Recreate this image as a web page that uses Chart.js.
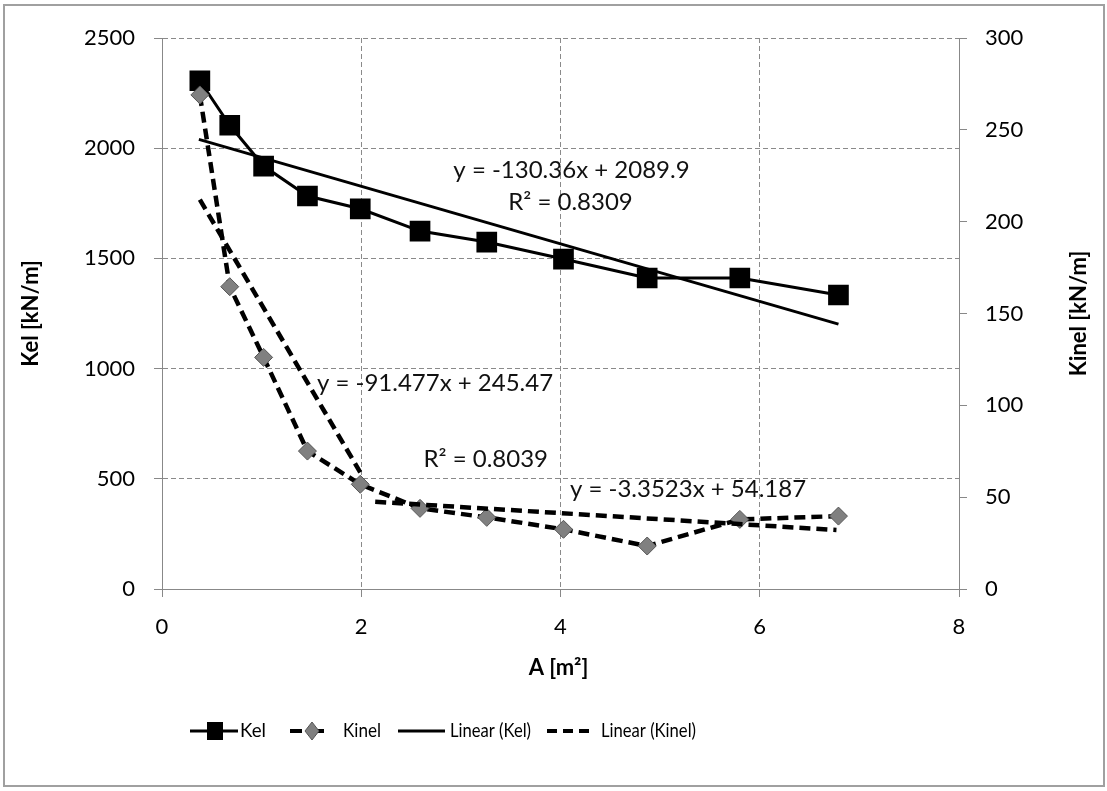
<!DOCTYPE html>
<html>
<head>
<meta charset="utf-8">
<script src="https://cdn.jsdelivr.net/npm/chart.js@4.4.0/dist/chart.umd.min.js"></script>
<style>
  html, body { margin: 0; padding: 0; background: #fff; }
  #wrap { width: 1107px; height: 791px; }
</style>
</head>
<body>
<div id="wrap"><canvas id="chart"></canvas></div>
<script>
// values
const areas = [0.38, 0.68, 1.02, 1.46, 1.99, 2.59, 3.26, 4.03, 4.87, 5.80, 6.79];
const kel = [2306, 2104, 1919, 1783, 1725, 1624, 1574, 1497, 1411, 1411, 1334];
const kinel = [269, 164.6, 126.1, 75.1, 57.0, 43.9, 39.0, 32.5, 23.4, 37.9, 39.7];

// trend line end points (x, y)
const kelTrendX = [0.37, 6.79];
const kelTrendY = [2040, 1202];
const kinelTrendAX = [0.38, 1.99];
const kinelTrendAY = [212, 63.5];
const kinelTrendBX = [2.14, 6.77];
const kinelTrendBY = [47.5, 32.1];

const xTicks = [0, 2, 4, 6, 8];
const kelTicks = [0, 500, 1000, 1500, 2000, 2500];
const kinelTicks = [0, 50, 100, 150, 200, 250, 300];

const legendLabels = ['Kel', 'Kinel', 'Linear (Kel)', 'Linear (Kinel)'];
const equations = ['y = -130.36x + 2089.9', 'R² = 0.8309', 'y = -91.477x + 245.47', 'R² = 0.8039', 'y = -3.3523x + 54.187'];

const pts = (xs, ys) => xs.map((x, i) => ({ x: x, y: ys[i] }));
const FONT = 'Lato, "Open Sans", sans-serif';

const extras = {
  id: 'extras',
  afterDraw(chart) {
    const ctx = chart.ctx;
    const sx = chart.scales.x, sy = chart.scales.y;
    ctx.save();

    // outer frame
    ctx.strokeStyle = '#a0a0a0';
    ctx.lineWidth = 2;
    ctx.strokeRect(4, 5, 1100, 781);

    // equations (placed in data coordinates of the left axis)
    const eqPos = [[4.11, 1901], [4.10, 1756], [2.74, 935], [3.25, 590], [5.28, 454]];
    ctx.fillStyle = '#111';
    ctx.font = '24px ' + FONT;
    ctx.textAlign = 'center';
    ctx.textBaseline = 'middle';
    equations.forEach((t, i) => {
      ctx.fillText(t, sx.getPixelForValue(eqPos[i][0]), sy.getPixelForValue(eqPos[i][1]));
    });

    // axis titles
    ctx.fillStyle = '#000';
    ctx.font = 'bold 22px ' + FONT;
    ctx.fillText('A [m²]', (sx.left + sx.right) / 2 - 2, 668);
    const midY = (chart.chartArea.top + chart.chartArea.bottom) / 2;
    ctx.save();
    ctx.translate(31, midY);
    ctx.rotate(-Math.PI / 2);
    ctx.fillText('Kel [kN/m]', 0, 0);
    ctx.restore();
    ctx.save();
    ctx.translate(1079, midY);
    ctx.rotate(-Math.PI / 2);
    ctx.fillText('Kinel [kN/m]', 0, 0);
    ctx.restore();

    // legend
    const ly = 731;
    ctx.font = '19px ' + FONT;
    ctx.textAlign = 'left';
    ctx.strokeStyle = '#000';
    // Kel
    ctx.lineWidth = 3;
    ctx.setLineDash([]);
    ctx.beginPath(); ctx.moveTo(190, ly); ctx.lineTo(238, ly); ctx.stroke();
    ctx.fillStyle = '#000';
    ctx.fillRect(207, ly - 9, 16, 18);
    ctx.fillText(legendLabels[0], 240, ly, 26);
    // Kinel
    ctx.lineWidth = 4;
    ctx.setLineDash([12, 10]);
    ctx.beginPath(); ctx.moveTo(290, ly); ctx.lineTo(334, ly); ctx.stroke();
    ctx.setLineDash([]);
    ctx.fillStyle = '#808080';
    ctx.strokeStyle = '#555';
    ctx.lineWidth = 1;
    ctx.beginPath();
    ctx.moveTo(312, ly - 9); ctx.lineTo(319, ly); ctx.lineTo(312, ly + 9); ctx.lineTo(305, ly);
    ctx.closePath(); ctx.fill(); ctx.stroke();
    ctx.fillStyle = '#000';
    ctx.fillText(legendLabels[1], 343, ly, 38);
    // Linear (Kel)
    ctx.strokeStyle = '#000';
    ctx.lineWidth = 3;
    ctx.beginPath(); ctx.moveTo(398, ly); ctx.lineTo(445, ly); ctx.stroke();
    ctx.fillText(legendLabels[2], 450, ly, 81);
    // Linear (Kinel)
    ctx.lineWidth = 4;
    ctx.setLineDash([10, 6]);
    ctx.beginPath(); ctx.moveTo(547, ly); ctx.lineTo(590, ly); ctx.stroke();
    ctx.setLineDash([]);
    ctx.fillText(legendLabels[3], 601, ly, 95);

    ctx.restore();
  }
};

const tickFont = { family: FONT, size: 22 };
const plain = v => String(v);

new Chart(document.getElementById('chart'), {
  type: 'scatter',
  data: {
    datasets: [
      {
        label: legendLabels[0],
        data: pts(areas, kel),
        yAxisID: 'y',
        showLine: true,
        borderColor: '#000',
        borderWidth: 3,
        pointStyle: 'rect',
        pointRadius: 12.5,
        pointBackgroundColor: '#000',
        pointBorderColor: '#000',
        order: 4
      },
      {
        label: legendLabels[1],
        data: pts(areas, kinel),
        yAxisID: 'y1',
        showLine: true,
        borderColor: '#000',
        borderWidth: 4.5,
        borderDash: [11, 6],
        pointStyle: 'rectRot',
        pointRadius: 9,
        pointBackgroundColor: '#808080',
        pointBorderColor: '#555',
        pointBorderWidth: 1,
        order: 3
      },
      {
        label: legendLabels[2],
        data: pts(kelTrendX, kelTrendY),
        yAxisID: 'y',
        showLine: true,
        borderColor: '#000',
        borderWidth: 3,
        pointRadius: 0,
        order: 1
      },
      {
        label: legendLabels[3],
        data: pts(kinelTrendAX, kinelTrendAY),
        yAxisID: 'y1',
        showLine: true,
        borderColor: '#000',
        borderWidth: 4.5,
        borderDash: [11, 6],
        pointRadius: 0,
        order: 2
      },
      {
        label: legendLabels[3],
        data: pts(kinelTrendBX, kinelTrendBY),
        yAxisID: 'y1',
        showLine: true,
        borderColor: '#000',
        borderWidth: 4.5,
        borderDash: [11, 6],
        pointRadius: 0,
        order: 2
      }
    ]
  },
  options: {
    responsive: true,
    maintainAspectRatio: false,
    animation: false,
    layout: { padding: { top: 38, left: 0, right: 0, bottom: 0 } },
    plugins: { legend: { display: false }, tooltip: { enabled: false } },
    scales: {
      x: {
        type: 'linear',
        min: 0, max: 8,
        afterBuildTicks: s => { s.ticks = xTicks.map(v => ({ value: v })); },
        afterFit: s => { s.height = 202; },
        grid: { color: '#8a8a8a', tickBorderDash: [], tickColor: '#888', tickLength: 8 },
        border: { display: true, color: '#888', width: 1, dash: [5, 3] },
        ticks: { font: tickFont, color: '#000', padding: 17, maxRotation: 0, callback: plain }
      },
      y: {
        position: 'left',
        min: 0, max: 2500,
        afterBuildTicks: s => { s.ticks = kelTicks.map(v => ({ value: v })); },
        afterFit: s => { s.width = 162; },
        grid: { color: '#8a8a8a', tickBorderDash: [], tickColor: '#888', tickLength: 8 },
        border: { display: true, color: '#888', width: 1, dash: [5, 3] },
        ticks: { font: tickFont, color: '#000', padding: 19, callback: plain }
      },
      y1: {
        position: 'right',
        min: 0, max: 300,
        afterBuildTicks: s => { s.ticks = kinelTicks.map(v => ({ value: v })); },
        afterFit: s => { s.width = 148; },
        grid: { drawOnChartArea: false, tickColor: '#888', tickLength: 8 },
        border: { display: true, color: '#888', width: 1 },
        ticks: { font: tickFont, color: '#000', padding: 18, callback: plain }
      }
    }
  },
  plugins: [extras]
});
</script>
</body>
</html>
